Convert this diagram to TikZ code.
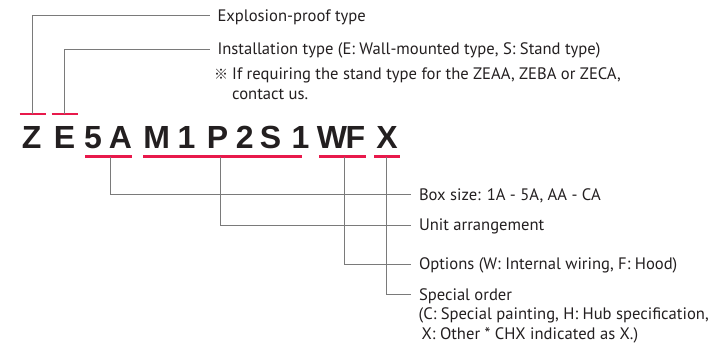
\documentclass[tikz,border=0pt]{standalone}
\usepackage{fontspec}
\setmainfont{PT Sans}
\newfontfamily\codefont{Liberation Sans}
\newfontfamily\cjkfont{Noto Sans CJK JP}
\usetikzlibrary{positioning}

\definecolor{codered}{HTML}{E8194B}
\definecolor{leadgray}{HTML}{7A7A7A}
\definecolor{inkgray}{HTML}{231F20}

\begin{document}
\begin{tikzpicture}[
    x=1pt, y=-1pt,
    letter/.style={anchor=base, inner sep=0pt, text=inkgray, font=\codefont\bfseries\fontsize{32}{32}\selectfont},
    redbar/.style={draw=codered, line width=2.4pt},
    lead/.style={draw=leadgray, line width=0.9pt},
    desc/.style={anchor=west, inner sep=0pt, outer xsep=8pt, text height=11.6pt, text depth=0pt, text=inkgray, font=\fontsize{16.6}{20.5}\selectfont},
    note/.style={anchor=base west, inner sep=0pt, align=left, text=inkgray, font=\fontsize{16.6}{20.3}\selectfont}
  ]

    \useasboundingbox (0,0) rectangle (712,352);

    % Model code
    \foreach \chr/\cx/\nm in {Z/31.7/cz, E/64.5/ce, 5/93/cfive, A/120.5/ca, M/156.7/cm, 1/186.4/cone, P/217.5/cp, 2/244.7/ctwo, S/270.5/cs, 1/300.4/cunit, W/332/cw, F/355.5/cf, X/387/cx}
      \node[letter] (\nm) at (\cx,148.3) {\chr};

    % Underlines
    \foreach \xa/\xb/\yy in {19.7/46/114, 51.7/77.7/114, 85/131.7/156.7, 143.3/301.7/156.7, 319.3/365.7/156.7, 374/400/156.7}
      \draw[redbar] (\xa,\yy) -- (\xb,\yy);

    % Tap points on the underlines
    \coordinate (tapZ) at (32.3,114);
    \coordinate (tapE) at (64.3,114);
    \coordinate (tapSize) at (110,156.7);
    \coordinate (tapUnit) at (220,156.7);
    \coordinate (tapOpt) at (344.3,156.7);
    \coordinate (tapSpec) at (386.7,156.7);

    % Descriptions
    \node[desc] (expl) at (209.5,15.5) {Explosion-proof type};
    \node[desc] (inst) at (209.5,49) {Installation type (E: Wall-mounted type, S: Stand type)};
    % note: base = baseline of its last line
    \node[note] (instnote) at (214,100) {\makebox[18pt][l]{\cjkfont\fontsize{14}{14}\selectfont ※}If requiring the stand type for the ZEAA, ZEBA or ZECA,\\\hspace*{18pt}contact us.};

    \node[desc] (boxsize) at (411,194.5) {Box size: 1A - 5A, AA - CA};
    \node[desc] (unit) at (411,225) {Unit arrangement};
    \node[desc] (opts) at (411,264) {Options (W: Internal wiring, F: Hood)};
    \node[desc] (special) at (411,294.5) {Special order};
    \node[note] (specnote) at (418.5,340) {(C: Special painting, H: Hub specification,\\\hspace*{3pt}X: Other * CHX indicated as X.)};

    % Leads
    \draw[lead] (tapZ) |- (expl.west);
    \draw[lead] (tapE) |- (inst.west);
    \draw[lead] (tapSize) |- (boxsize.west);
    \draw[lead] (tapUnit) |- (unit.west);
    \draw[lead] (tapOpt) |- (opts.west);
    \draw[lead] (tapSpec) |- (special.west);

  \end{tikzpicture}
\end{document}
